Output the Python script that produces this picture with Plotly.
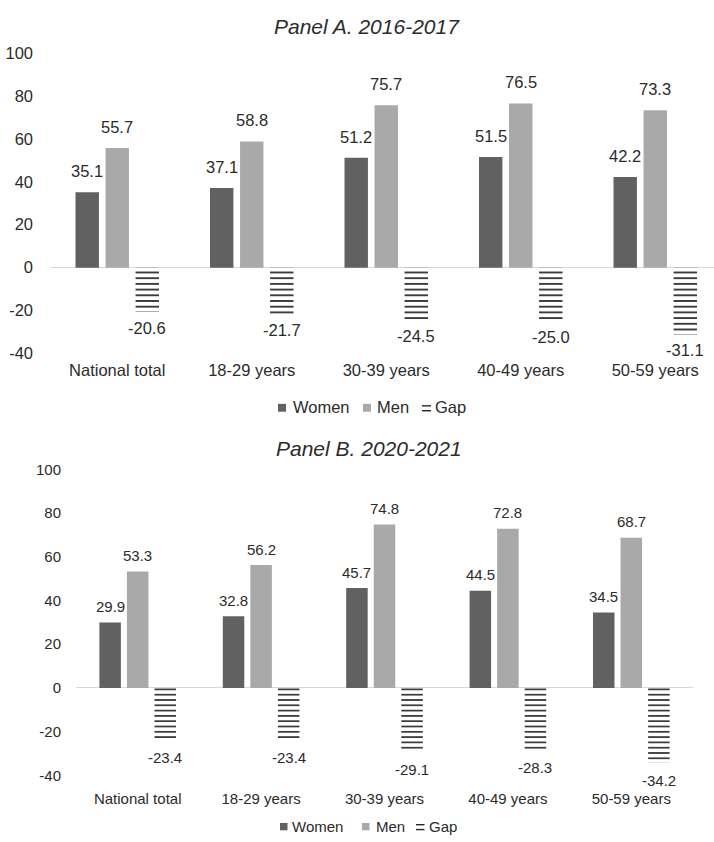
import plotly.graph_objects as go

# Age groups shown on the category axis
categories = ["National total", "18-29 years", "30-39 years", "40-49 years", "50-59 years"]

# Panel A: 2016-2017
women_a = [35.1, 37.1, 51.2, 51.5, 42.2]
men_a = [55.7, 58.8, 75.7, 76.5, 73.3]
gap_a = [-20.6, -21.7, -24.5, -25.0, -31.1]

# Panel B: 2020-2021
women_b = [29.9, 32.8, 45.7, 44.5, 34.5]
men_b = [53.3, 56.2, 74.8, 72.8, 68.7]
gap_b = [-23.4, -23.4, -29.1, -28.3, -34.2]

y_ticks = [-40, -20, 0, 20, 40, 60, 80, 100]
series_names = ["Women", "Men", "Gap"]

W, H = 714, 842
FONT = "Liberation Sans, Arial, sans-serif"
TXT = "#2b2b2b"
WOMEN_C = "#616161"
MEN_C = "#a9a9a9"
STRIPE_C = "#262626"
BARGAP, GROUPGAP = 0.33, 0.22


def px(x):
    return x / W


def py(y):
    return 1 - y / H


def fmt(v):
    # plain hyphen for negatives, one decimal
    return f"{v:.1f}"


fig = go.Figure()
annotations = []
shapes = []

panels = [
    # values, axis suffix, font size, stripe size, label offsets (above, below)
    dict(vals=(women_a, men_a, gap_a), ax="", fs=16.5, stripe=5.7, up=21, down=16),
    dict(vals=(women_b, men_b, gap_b), ax="2", fs=15, stripe=5.3, up=16, down=18),
]

for p in panels:
    women, men, gap = p["vals"]
    xa, ya = "x" + p["ax"], "y" + p["ax"]
    fig.add_trace(go.Bar(x=categories, y=women, name="Women", xaxis=xa, yaxis=ya,
                         marker=dict(color=WOMEN_C, line=dict(width=0)), showlegend=False))
    fig.add_trace(go.Bar(x=categories, y=men, name="Men", xaxis=xa, yaxis=ya,
                         marker=dict(color=MEN_C, line=dict(width=0)), showlegend=False))
    fig.add_trace(go.Bar(
        x=categories, y=gap, name="Gap", xaxis=xa, yaxis=ya, showlegend=False,
        marker=dict(color="white", line=dict(width=0),
                    pattern=dict(shape="-", fgcolor=STRIPE_C, bgcolor="white",
                                 size=p["stripe"], solidity=0.3, fillmode="replace")),
    ))
    # value labels, placed over the centre of each bar in its group
    slot = (1 - BARGAP) / 3
    for k, series in enumerate((women, men, gap)):
        for i, v in enumerate(series):
            annotations.append(dict(
                x=i + (k - 1) * slot, y=v, xref=xa, yref=ya, text=fmt(v),
                showarrow=False, xanchor="center", yanchor="middle",
                yshift=p["up"] if v >= 0 else -p["down"],
                font=dict(size=p["fs"], color=TXT, family=FONT),
            ))


def y_axis(dom, fs, standoff, anchor):
    return dict(
        domain=dom, range=[-40, 100], anchor=anchor, tickvals=y_ticks,
        ticktext=[str(t) for t in y_ticks], showgrid=False, showline=False,
        zeroline=True, zerolinecolor="#d9d9d9", zerolinewidth=1.3, ticks="",
        tickfont=dict(size=fs, color=TXT, family=FONT), ticklabelstandoff=standoff,
        fixedrange=True,
    )


def x_axis(dom, rng, fs, standoff, anchor):
    return dict(
        domain=dom, range=rng, anchor=anchor, type="category",
        showgrid=False, showline=False, zeroline=False, ticks="",
        tickfont=dict(size=fs, color=TXT, family=FONT), ticklabelstandoff=standoff,
        fixedrange=True,
    )


# Panel A runs past the right edge of the page, so its axis range is cut short
cat_px_a = 134.5
span_a = (W - 50) / cat_px_a

fig.update_layout(
    width=W, height=H,
    margin=dict(l=0, r=0, t=0, b=0),
    paper_bgcolor="white", plot_bgcolor="white",
    barmode="group", bargap=BARGAP, bargroupgap=GROUPGAP,
    showlegend=False,
    font=dict(family=FONT, color=TXT),
    xaxis=x_axis([px(50), 1], [-0.5, -0.5 + span_a], 16.5, 5, "y"),
    yaxis=y_axis([py(352), py(45)], 16.5, 16, "x"),
    xaxis2=x_axis([px(76), px(693)], [-0.5, 4.5], 15, 13, "y2"),
    yaxis2=y_axis([py(783), py(470.5)], 15, 14, "x2"),
)

# Panel titles
annotations.append(dict(text="<i>Panel A. 2016-2017</i>", x=px(367), y=py(18),
                        xref="paper", yref="paper", showarrow=False,
                        xanchor="center", yanchor="middle",
                        font=dict(size=21, color=TXT, family=FONT)))
annotations.append(dict(text="<i>Panel B. 2020-2021</i>", x=px(369), y=py(449),
                        xref="paper", yref="paper", showarrow=False,
                        xanchor="center", yanchor="middle",
                        font=dict(size=21, color=TXT, family=FONT)))

# Legends under each panel: swatch x positions, text x positions, row y, font size
legends = [
    dict(sw=[278, 363, 422], tx=[291, 375, 433], y=407, fs=16.5, size=8),
    dict(sw=[280, 362, 416], tx=[290, 374, 427], y=835, fs=15, size=7.5),
]
for lg in legends:
    s = lg["size"]
    yc = lg["y"]
    for k, name in enumerate(series_names):
        x0 = lg["sw"][k]
        if name == "Gap":
            for yy in (yc - 1.5, yc + 3.5):
                shapes.append(dict(type="line", xref="paper", yref="paper",
                                   x0=px(x0), x1=px(x0 + s + 1), y0=py(yy), y1=py(yy),
                                   line=dict(color=STRIPE_C, width=1.4)))
        else:
            shapes.append(dict(type="rect", xref="paper", yref="paper",
                               x0=px(x0), x1=px(x0 + s), y0=py(yc - s / 2 + 0.5),
                               y1=py(yc + s / 2 + 0.5), line=dict(width=0),
                               fillcolor=WOMEN_C if name == "Women" else MEN_C))
        annotations.append(dict(text=name, x=px(lg["tx"][k]), y=py(yc), xref="paper",
                                yref="paper", showarrow=False, xanchor="left",
                                yanchor="middle",
                                font=dict(size=lg["fs"], color=TXT, family=FONT)))

fig.update_layout(annotations=annotations, shapes=shapes)

fig.write_html("out.html")
